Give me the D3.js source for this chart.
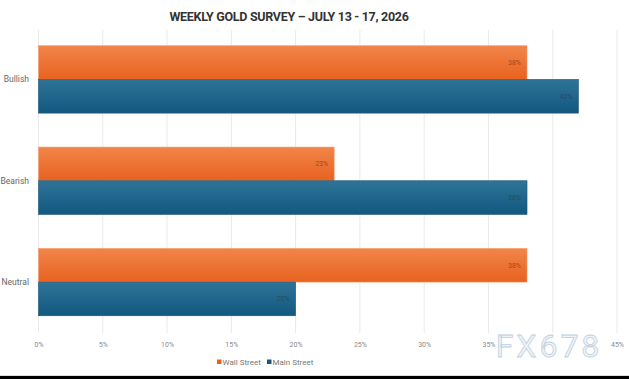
<meta charset="utf-8">
<script src="https://d3js.org/d3.v7.min.js"></script>
<style>
  body { margin: 0; background: #fff; }
  text { font-family: Roboto, "Open Sans", sans-serif; }
</style>
<svg id="chart" width="629" height="379"></svg>
<script>
// data
var categories = ["Bullish", "Bearish", "Neutral"];
var seriesNames = ["Wall Street", "Main Street"];
var wallStreet = [38, 23, 38];
var mainStreet = [42, 38, 20];
var xTicks = [0, 5, 10, 15, 20, 25, 30, 35, 40, 45];

var svg = d3.select("#chart"),
    width = +svg.attr("width"),
    height = +svg.attr("height");

var colors = { "Wall Street": ["#f2854a", "#e8621f"], "Main Street": ["#2f7398", "#12587f"] };

var defs = svg.append("defs");
seriesNames.forEach(function(s, i) {
  var g = defs.append("linearGradient").attr("id", "grad" + i)
      .attr("x1", 0).attr("y1", 0).attr("x2", 0).attr("y2", 1);
  g.append("stop").attr("offset", "0%").attr("stop-color", colors[s][0]);
  g.append("stop").attr("offset", "100%").attr("stop-color", colors[s][1]);
});

svg.append("rect").attr("width", width).attr("height", height).attr("fill", "#fff");

var x = d3.scaleLinear().domain([0, 45]).range([38.5, 617]);
var y = d3.scaleBand().domain(categories).range([28.5, 333]).paddingInner(0.335).paddingOuter(0.17);
var ySub = d3.scaleBand().domain(seriesNames).range([0, y.bandwidth()]);

// title
svg.append("text")
    .attr("x", 289).attr("y", 21)
    .attr("text-anchor", "middle")
    .style("font-size", "12.5px").style("font-weight", "bold")
    .style("fill", "#333").style("letter-spacing", "-0.3px")
    .text("WEEKLY GOLD SURVEY \u2013 JULY 13 - 17, 2026");

// gridlines
svg.append("g").selectAll("line").data(xTicks).enter().append("line")
    .attr("x1", function(d) { return x(d); }).attr("x2", function(d) { return x(d); })
    .attr("y1", 30).attr("y2", 333)
    .style("stroke", "#e9e9e9").style("stroke-width", 1);

// x axis labels (40% is hidden under the watermark)
var xAxis = d3.axisBottom(x).tickValues(xTicks).tickSize(0).tickFormat(function(d) { return d + "%"; });
var ax = svg.append("g").attr("transform", "translate(0,339)").call(xAxis);
ax.select(".domain").remove();
ax.selectAll("text").style("font-size", "7px").style("fill", "#8a8a8a")
    .style("font-family", "Roboto, sans-serif")
    .style("opacity", function(d) { return d === 40 ? 0 : 1; });

// category labels
svg.append("g").selectAll("text").data(categories).enter().append("text")
    .attr("x", 29).attr("y", function(d) { return y(d) + y.bandwidth() / 2 + 3; })
    .attr("text-anchor", "end")
    .style("font-size", "8.5px").style("fill", "#666")
    .text(function(d) { return d; });

// bars
var rows = categories.map(function(c, i) {
  return [{ cat: c, s: "Wall Street", v: wallStreet[i], k: 0 }, { cat: c, s: "Main Street", v: mainStreet[i], k: 1 }];
});
var groups = svg.append("g").selectAll("g").data(rows).enter().append("g")
    .attr("transform", function(d) { return "translate(0," + y(d[0].cat) + ")"; });

groups.selectAll("rect").data(function(d) { return d; }).enter().append("rect")
    .attr("x", x(0))
    .attr("y", function(d) { return ySub(d.s); })
    .attr("width", function(d) { return x(d.v) - x(0); })
    .attr("height", ySub.bandwidth())
    .attr("fill", function(d) { return "url(#grad" + d.k + ")"; })
    .style("stroke", function(d) { return d.k === 0 ? "#f5a070" : "#1d5677"; })
    .style("stroke-width", 0.6);

groups.selectAll("text").data(function(d) { return d; }).enter().append("text")
    .attr("x", function(d) { return x(d.v) - 6; })
    .attr("y", function(d) { return ySub(d.s) + ySub.bandwidth() / 2 + 2.5; })
    .attr("text-anchor", "end")
    .style("font-size", "7px")
    .style("fill", function(d) { return d.k === 0 ? "#9a4a22" : "#2a4a60"; })
    .text(function(d) { return d.v + "%"; });

// legend
var legend = svg.append("g").attr("transform", "translate(217,362)");
seriesNames.forEach(function(s, i) {
  var lg = legend.append("g").attr("transform", "translate(" + (i * 50) + ",0)");
  lg.append("rect").attr("x", 0).attr("y", -2.5).attr("width", 4.5).attr("height", 4.5).attr("fill", colors[s][1]);
  lg.append("text").attr("x", 5.5).attr("y", 2.8).style("font-size", "8px").style("fill", "#777").text(s);
});

// watermark
svg.append("text")
    .attr("x", 549).attr("y", 357)
    .attr("text-anchor", "middle")
    .style("font-size", "32px")
    .style("fill", "#eef3f9").style("stroke", "#bfcfe2").style("stroke-width", 0.8)
    .style("letter-spacing", "3px")
    .text("FX678");

// bottom strip
svg.append("rect").attr("x", 0).attr("y", 375).attr("width", width).attr("height", 1).attr("fill", "#cfe0ee");
svg.append("rect").attr("x", 0).attr("y", 376).attr("width", width).attr("height", 3).attr("fill", "#000");
</script>
